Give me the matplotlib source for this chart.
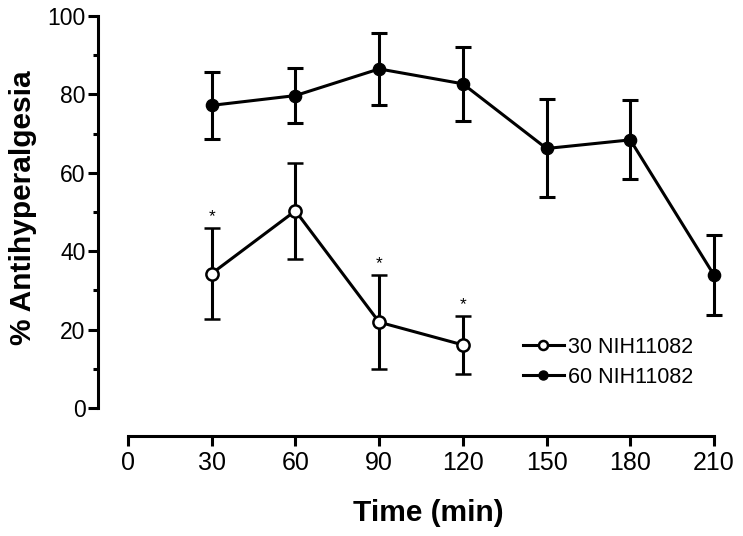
import matplotlib
matplotlib.use("Agg")
import matplotlib.pyplot as plt
from matplotlib.ticker import MultipleLocator
from matplotlib.lines import Line2D

plt.rcParams['font.family'] = ['Liberation Sans', 'DejaVu Sans']

# Data
time_30 = [30, 60, 90, 120]
mean_30 = [34.3, 50.3, 21.9, 16.1]
err_30 = [11.5, 12.2, 12.0, 7.3]
sig_30 = [True, False, True, True]

time_60 = [30, 60, 90, 120, 150, 180, 210]
mean_60 = [77.2, 79.7, 86.5, 82.7, 66.2, 68.4, 33.9]
err_60 = [8.6, 7.1, 9.1, 9.4, 12.5, 10.1, 10.2]

xticks = [0, 30, 60, 90, 120, 150, 180, 210]
yticks = [0, 20, 40, 60, 80, 100]
label_30 = "30 NIH11082"
label_60 = "60 NIH11082"

W, H = 743, 536
fig = plt.figure(figsize=(W / 100, H / 100), dpi=100)
left_px, right_px, top_px, bottom_px = 98, 716, 16, 436
ax = fig.add_axes([left_px / W, 1 - bottom_px / H,
                   (right_px - left_px) / W, (bottom_px - top_px) / H])

x0_px, x210_px = 128, 714
ppu_x = (x210_px - x0_px) / 210.0
y0_px, y100_px = 408, 16
ppu_y = (y0_px - y100_px) / 100.0
ax.set_xlim(-(x0_px - left_px) / ppu_x, 210 + (right_px - x210_px) / ppu_x)
ax.set_ylim(-(bottom_px - y0_px) / ppu_y, 100)

lw = 2.2
ax.errorbar(time_60, mean_60, yerr=err_60, color='black', lw=lw,
            marker='o', markersize=8.8, markerfacecolor='black',
            markeredgecolor='black', capsize=5.8, capthick=lw,
            elinewidth=lw, clip_on=False, zorder=3)
ax.errorbar(time_30, mean_30, yerr=err_30, color='black', lw=lw,
            marker='o', markersize=8.8, markerfacecolor='white',
            markeredgecolor='black', markeredgewidth=1.8, capsize=5.8,
            capthick=lw, elinewidth=lw, clip_on=False, zorder=4)

for t, m, e, s in zip(time_30, mean_30, err_30, sig_30):
    if s:
        ax.annotate('*', xy=(t, m + e), xytext=(0, 3), textcoords='offset points',
                    ha='center', va='bottom', fontsize=12.5)

h30 = Line2D([], [], color='black', lw=lw, marker='o', markersize=6.5,
             markerfacecolor='white', markeredgewidth=1.8)
h60 = Line2D([], [], color='black', lw=lw, marker='o', markersize=6.5,
             markerfacecolor='black')
ax.legend([h30, h60], [label_30, label_60], loc='upper left',
          bbox_to_anchor=(523 / W, 1 - 337 / H), bbox_transform=fig.transFigure,
          frameon=False, fontsize=15.5, handlelength=1.9, handletextpad=0.2,
          labelspacing=0.4, borderpad=0, borderaxespad=0)

for sp in ['top', 'right']:
    ax.spines[sp].set_visible(False)
ax.spines['left'].set_bounds(0, 100)
ax.spines['bottom'].set_bounds(0, 210)
ax.spines['left'].set_linewidth(lw)
ax.spines['bottom'].set_linewidth(lw)

ax.set_xticks(xticks)
ax.set_yticks(yticks)
ax.yaxis.set_minor_locator(MultipleLocator(10))
ax.tick_params(axis='y', which='major', length=7, width=lw, labelsize=16.5, pad=2)
ax.tick_params(axis='y', which='minor', length=3.5, width=lw)
ax.tick_params(axis='x', which='major', length=7, width=lw, labelsize=18, pad=4)

ax.set_xlabel('Time (min)', fontsize=21.5, fontweight='bold')
ax.set_ylabel('% Antihyperalgesia', fontsize=21.5, fontweight='bold')
ax.xaxis.set_label_coords(428 / W, 1 - 521 / H, transform=fig.transFigure)
ax.xaxis.label.set_va('baseline')
ax.yaxis.set_label_coords(9 / W, 1 - 208 / H, transform=fig.transFigure)
ax.yaxis.label.set_va('top')

fig.savefig('out.png', dpi=100)
